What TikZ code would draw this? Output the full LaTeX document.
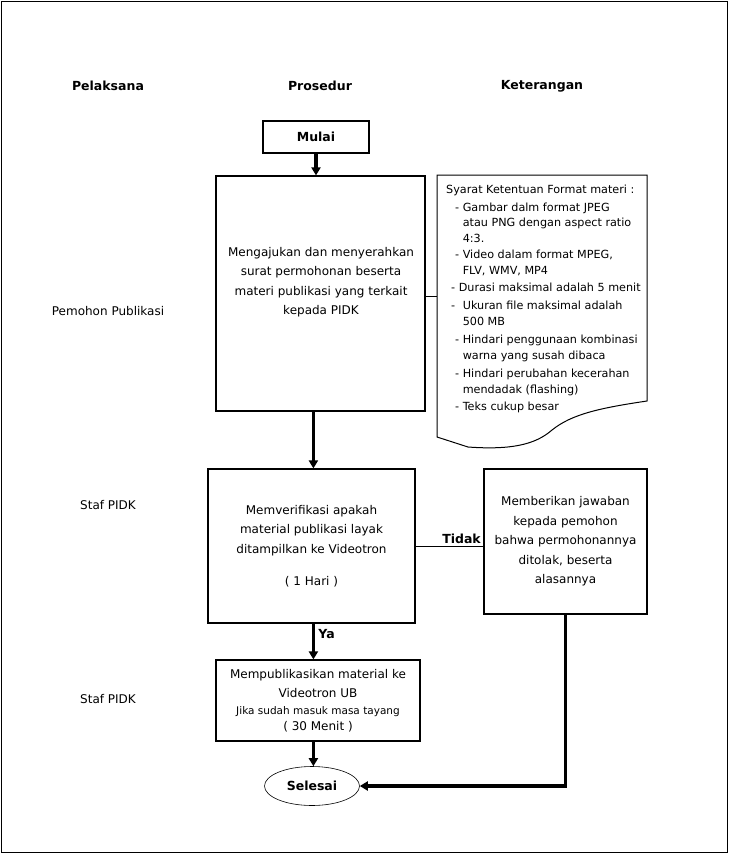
\documentclass[tikz,border=0pt]{standalone}
\usepackage{fontspec}
\setmainfont{DejaVu Sans}
\usepackage{tikz}
\usetikzlibrary{arrows.meta,positioning,shapes}

\begin{document}
\begin{tikzpicture}[x=1pt,y=-1pt,
  every node/.style={font=\fontsize{12}{19.5}\selectfont},
  box/.style={draw,line width=1.2pt,align=center,inner sep=0pt},
  head/.style={font=\fontsize{12.5}{15}\selectfont\bfseries},
  flow/.style={line width=3.5pt,-{Triangle[length=8pt,width=9pt]}}]

  % frame
  \useasboundingbox (0,0) rectangle (729,854);
  \draw[line width=1pt] (1.5,1.5) rectangle (727.5,852.5);

  % column heads
  \foreach \n/\x/\t in {pel/108/Pelaksana, pro/320/Prosedur, ket/542/Keterangan} {
    \node[head] (\n) at (\x,86) {\t};
  }

  % actors
  \foreach \n/\y/\t in {pemohon/311/Pemohon Publikasi, staf1/505/Staf PIDK, staf2/699/Staf PIDK} {
    \node (\n) at (108,\y) {\t};
  }

  % procedure boxes
  \node[box,minimum width=106,minimum height=32,font=\fontsize{12.5}{15}\selectfont\bfseries] (mulai) at (316,137) {Mulai};
  \node[box,minimum width=209,minimum height=235] (ajukan) at (320.5,293.5) {};
  \node[align=center] (ajukanT) at (321,282) {Mengajukan dan menyerahkan\\surat permohonan beserta\\materi publikasi yang terkait\\kepada PIDK};
  \node[box,minimum width=207,minimum height=154] (verif) at (311.5,546) {Memverifikasi apakah\\material publikasi layak\\ditampilkan ke Videotron\\[13pt]( 1 Hari )};
  \node[box,minimum width=163,minimum height=145] (tolak) at (565.5,541.5) {Memberikan jawaban\\kepada pemohon\\bahwa permohonannya\\ditolak, beserta\\alasannya};
  \node[box,minimum width=204,minimum height=81] (publik) at (318,700.5) {Mempublikasikan material ke\\Videotron UB\\[-3pt]{\fontsize{10.5}{14}\selectfont Jika sudah masuk masa tayang}\\[-3pt]( 30 Menit )};
  \node[draw,ellipse,line width=0.6pt,minimum width=95,minimum height=39,font=\fontsize{12.5}{15}\selectfont\bfseries] (selesai) at (312,786) {Selesai};

  % document shape
  \coordinate (docL) at (437,296);
  \draw[line width=1pt] (437,175) -- (647,175) -- (647,401)
    .. controls (600,408) and (572,414) .. (552,430)
    .. controls (535,445) and (510,450) .. (468,447) -- (437,437) -- cycle;
  \node[anchor=north west,inner sep=0pt,font=\fontsize{11.2}{16.5}\selectfont] (syarat) at (446,182) {%
    \begin{tabular}{@{}l@{\ }l@{}}
    \multicolumn{2}{@{}l}{Syarat Ketentuan Format materi :}\\[1pt]
    \hspace{9pt}- & Gambar dalm format JPEG\\[-1pt]
      & atau PNG dengan aspect ratio\\[-1pt]
      & 4:3.\\
    \hspace{9pt}- & Video dalam format MPEG,\\[-1pt]
      & FLV, WMV, MP4\\[1pt]
    \multicolumn{2}{@{}l}{\hspace{5pt}- Durasi maksimal adalah 5 menit}\\[1pt]
    \hspace{5pt}- & Ukuran file maksimal adalah\\
      & 500 MB\\[1pt]
    \hspace{9pt}- & Hindari penggunaan kombinasi\\
      & warna yang susah dibaca\\[1pt]
    \hspace{9pt}- & Hindari perubahan kecerahan\\
      & mendadak (flashing)\\
    \hspace{9pt}- & Teks cukup besar
    \end{tabular}};

  % connectors
  \draw[line width=0.8pt] (ajukan.east |- docL) -- (docL);
  \draw[flow] (mulai) -- (ajukan.north -| mulai);
  \draw[flow] (ajukan.south -| verif.south west) ++(106,0) coordinate (a1) -- (a1 |- verif.north);
  \draw[line width=0.8pt] (verif.east) -- node[above,font=\fontsize{12.5}{15}\selectfont\bfseries,xshift=12pt,yshift=-1pt] (tidak) {Tidak} (verif.east -| tolak.west);
  \draw[flow] (a1 |- verif.south) -- node[right,pos=0.3,font=\fontsize{12.5}{15}\selectfont\bfseries] (ya) {Ya} (a1 |- publik.north);
  \draw[flow] (a1 |- publik.south) -- (a1 |- selesai.north);
  \draw[flow] (tolak.south) |- (selesai.east);
\end{tikzpicture}
\end{document}
